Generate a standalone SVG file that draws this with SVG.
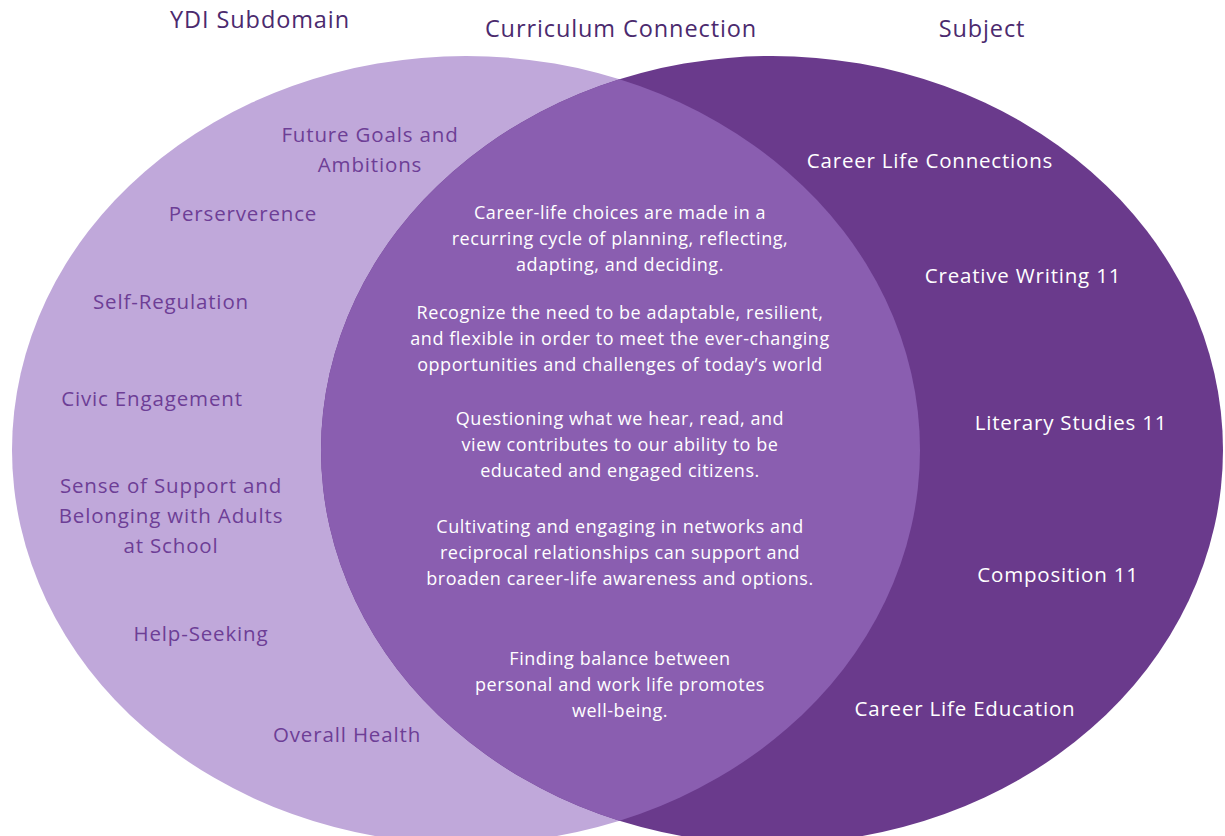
<svg xmlns="http://www.w3.org/2000/svg" width="1225" height="836" viewBox="0 0 1225 836">
  <style>
    .hdr { font-family: "Open Sans", "Noto Sans", sans-serif; font-size: 23.5px; letter-spacing: 0.9px; fill: #4b2a6e; text-anchor: middle; }
    .lt { font-family: "Open Sans", "Noto Sans", sans-serif; font-size: 20.5px; letter-spacing: 0.85px; fill: #6d3e96; text-anchor: middle; }
    .rt { font-family: "Open Sans", "Noto Sans", sans-serif; font-size: 20.5px; letter-spacing: 0.8px; fill: #ffffff; text-anchor: middle; }
    .mt { font-family: "Open Sans", "Noto Sans", sans-serif; font-size: 18px; letter-spacing: 0.55px; fill: #ffffff; text-anchor: middle; }
  </style>
  <defs>
    <clipPath id="clipRight">
      <ellipse cx="772" cy="450" rx="451" ry="394"/>
    </clipPath>
  </defs>
  <rect width="1225" height="836" fill="#ffffff"/>

  <g id="ydi-subdomain">
    <ellipse cx="466" cy="450" rx="454" ry="394" fill="#c0a8da"/>
  </g>
  <g id="subject">
    <ellipse cx="772" cy="450" rx="451" ry="394" fill="#6a3a8c"/>
  </g>
  <g id="curriculum-connection">
    <ellipse cx="466" cy="450" rx="454" ry="394" fill="#8a5eb0" clip-path="url(#clipRight)"/>
  </g>

  <g id="headers">
    <text class="hdr" x="260" y="28">YDI Subdomain</text>
    <text class="hdr" x="621" y="37">Curriculum Connection</text>
    <text class="hdr" x="982" y="37">Subject</text>
  </g>

  <g id="ydi-labels">
    <text class="lt" x="370" y="142">Future Goals and</text>
    <text class="lt" x="370" y="172">Ambitions</text>
    <text class="lt" x="243" y="221">Perserverence</text>
    <text class="lt" x="171" y="309">Self-Regulation</text>
    <text class="lt" x="152" y="406">Civic Engagement</text>
    <text class="lt" x="171" y="493">Sense of Support and</text>
    <text class="lt" x="171" y="523">Belonging with Adults</text>
    <text class="lt" x="171" y="553">at School</text>
    <text class="lt" x="201" y="641">Help-Seeking</text>
    <text class="lt" x="347" y="742">Overall Health</text>
  </g>

  <g id="curriculum-labels">
    <text class="mt" x="620" y="219">Career-life choices are made in a</text>
    <text class="mt" x="620" y="245">recurring cycle of planning, reflecting,</text>
    <text class="mt" x="620" y="271">adapting, and deciding.</text>
    <text class="mt" x="620" y="319">Recognize the need to be adaptable, resilient,</text>
    <text class="mt" x="620" y="345">and flexible in order to meet the ever-changing</text>
    <text class="mt" x="620" y="371">opportunities and challenges of today’s world</text>
    <text class="mt" x="620" y="425">Questioning what we hear, read, and</text>
    <text class="mt" x="620" y="451">view contributes to our ability to be</text>
    <text class="mt" x="620" y="477">educated and engaged citizens.</text>
    <text class="mt" x="620" y="533">Cultivating and engaging in networks and</text>
    <text class="mt" x="620" y="559">reciprocal relationships can support and</text>
    <text class="mt" x="620" y="585">broaden career-life awareness and options.</text>
    <text class="mt" x="620" y="665">Finding balance between</text>
    <text class="mt" x="620" y="691">personal and work life promotes</text>
    <text class="mt" x="620" y="717">well-being.</text>
  </g>

  <g id="subject-labels">
    <text class="rt" x="930" y="168">Career Life Connections</text>
    <text class="rt" x="1023" y="283">Creative Writing 11</text>
    <text class="rt" x="1071" y="430">Literary Studies 11</text>
    <text class="rt" x="1058" y="582">Composition 11</text>
    <text class="rt" x="965" y="716">Career Life Education</text>
  </g>
</svg>
